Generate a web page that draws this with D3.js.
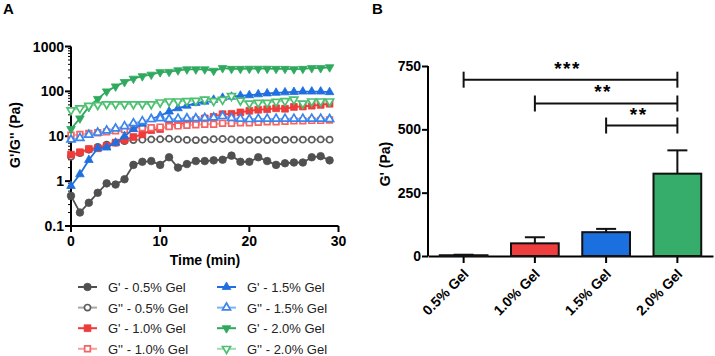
<!DOCTYPE html>
<html>
<head>
<meta charset="utf-8">
<script src="https://cdn.jsdelivr.net/npm/d3@7"></script>
<style>
body { margin: 0; background: #fff; }
text { font-family: "Liberation Sans", Arial, sans-serif; }
</style>
</head>
<body>
<script>
// ---- panel A data (time sweep) ----
const time = [0,1,2,3,4,5,6,7,8,9,10,11,12,13,14,15,16,17,18,19,20,21,22,23,24,25,26,27,28,29];
const gp05  = [0.47,0.2,0.33,0.55,0.89,0.84,1.1,2.3,2.7,2.8,2.3,3.4,2.0,2.4,2.8,2.8,2.9,3.0,3.7,2.7,2.7,3.4,2.8,2.3,2.5,2.6,2.6,3.4,3.6,2.9];
const gpp05 = [3.5,4.2,5.0,5.8,6.5,7.2,7.8,8.2,8.4,8.5,8.6,8.8,8.5,8.3,8.2,8.3,8.6,8.7,8.5,8.3,8.3,8.3,8.2,8.3,8.3,8.4,8.4,8.4,8.5,8.4];
const gp10  = [3.9,4.4,5.2,5.4,6.1,7.2,8.3,9.6,11,13.7,14.5,17.5,18.5,20,23,25,27,31,31.6,34,37,39,40,42,41,45,46,48,50,53];
const gpp10 = [10.5,11,11.5,12,12.5,13.2,14,15,15.5,15.5,16,16.5,17,17.5,18,18.5,18.5,19.5,19.5,20,20,20.5,21,21,21.5,22,22,22.5,22.5,23];
const gp15  = [0.78,1.42,2.96,5.4,5.6,7.2,10,14.4,19,24,28.5,35.5,42,48,55,59,65,72,76,80,82,86,90,93,95,97,99,99,99,96];
const gpp15 = [8.4,9.1,10.8,12,13.4,14.8,16.7,19.5,21.5,24,25,24,24.5,25,25,25.5,26,28,25.5,24.5,24,24.5,24.5,24.5,24.5,24.5,24.5,24.5,24.5,24];
const gp20  = [14.5,25,45,68,100,129,162,192,218,236,268,272,295,310,310,310,288,330,318,318,320,320,320,318,318,312,318,330,330,345];
const gpp20 = [38,42,48,50,52,52,52,52,52,52,57,60,60,61,62,66,61,65,79,63,54,56,56,59,61,66,54,60,60,60];

const seriesNames = ["G' - 0.5% Gel", "G'' - 0.5% Gel", "G' - 1.0% Gel", "G'' - 1.0% Gel",
                     "G' - 1.5% Gel", "G'' - 1.5% Gel", "G' - 2.0% Gel", "G'' - 2.0% Gel"];
const yTickLabels = ["0.1", "1", "10", "100", "1000"];
const xTicks = [0, 10, 20, 30];

// ---- panel B data (G' at end) ----
const gels = ["0.5% Gel", "1.0% Gel", "1.5% Gel", "2.0% Gel"];
const gMean = [3, 50, 94, 325];
const gErr = [2, 24, 13, 92];
const barTicks = [0, 250, 500, 750];
const sigFrom = [0, 1, 2];
const sigTo = [3, 3, 3];
const sigY = [696, 602, 515];
const sigLabel = ["***", "**", "**"];

const W = 715, H = 356;
const svg = d3.select("body").append("svg").attr("width", W).attr("height", H);

// look of each series
const styles = [
  {c: "#505050", line: "#505050", sym: d3.symbolCircle, open: false, rot: 0, size: 45},
  {c: "#5a5a5a", line: "#a8a8a8", sym: d3.symbolCircle, open: true, rot: 0, size: 30},
  {c: "#ef3b3b", line: "#ef3b3b", sym: d3.symbolSquare, open: false, rot: 0, size: 46},
  {c: "#f56464", line: "#f8a0a0", sym: d3.symbolSquare, open: true, rot: 0, size: 32},
  {c: "#1f6fe0", line: "#1f6fe0", sym: d3.symbolTriangle, open: false, rot: 0, size: 32},
  {c: "#3a85ee", line: "#80b2f2", sym: d3.symbolTriangle, open: true, rot: 0, size: 28},
  {c: "#2fa95e", line: "#2fa95e", sym: d3.symbolTriangle, open: false, rot: 180, size: 32},
  {c: "#4cc070", line: "#a0dcb0", sym: d3.symbolTriangle, open: true, rot: 180, size: 28}
];
const allValues = [gp05, gpp05, gp10, gpp10, gp15, gpp15, gp20, gpp20];

// ================= panel A =================
const x = d3.scaleLinear().domain([0, 30]).range([71, 338.5]);
const y = d3.scaleLog().domain([0.1, 1000]).range([226, 46.5]);

svg.append("text").attr("x", 3).attr("y", 14).attr("font-size", 15).attr("font-weight", "bold").text("A");

const gA = svg.append("g");

// y axis (log, with minor ticks)
const yAxis = gA.append("g");
yAxis.append("line").attr("x1", 71).attr("x2", 71).attr("y1", y(1000)).attr("y2", y(0.1))
  .attr("stroke", "#000").attr("stroke-width", 2);
y.ticks().forEach(t => {
  const major = Math.abs(Math.log10(t) - Math.round(Math.log10(t))) < 1e-9;
  yAxis.append("line").attr("x1", 71).attr("x2", major ? 65 : 68)
    .attr("y1", y(t)).attr("y2", y(t)).attr("stroke", "#000").attr("stroke-width", major ? 2 : 1);
});
yTickLabels.forEach(l => {
  yAxis.append("text").attr("x", 64).attr("y", y(+l) + 5).attr("text-anchor", "end")
    .attr("font-size", 14).attr("font-weight", "bold").text(l);
});

// x axis
const xAxis = gA.append("g");
xAxis.append("line").attr("x1", 70).attr("x2", x(30)).attr("y1", 226).attr("y2", 226)
  .attr("stroke", "#000").attr("stroke-width", 2);
xTicks.forEach(t => {
  xAxis.append("line").attr("x1", x(t)).attr("x2", x(t)).attr("y1", 226).attr("y2", 232)
    .attr("stroke", "#000").attr("stroke-width", 2);
  xAxis.append("text").attr("x", x(t)).attr("y", 246).attr("text-anchor", "middle")
    .attr("font-size", 14).attr("font-weight", "bold").text(t);
});

gA.append("text").attr("x", 205).attr("y", 265).attr("text-anchor", "middle")
  .attr("font-size", 14).attr("font-weight", "bold").text("Time (min)");
gA.append("text").attr("transform", "translate(20,135) rotate(-90)").attr("text-anchor", "middle")
  .attr("font-size", 14).attr("font-weight", "bold").text("G'/G'' (Pa)");

const line = d3.line().x((d, i) => x(time[i])).y(d => y(d));

function marker(sel, s) {
  sel.attr("d", d3.symbol().type(s.sym).size(s.size)())
    .attr("fill", s.open ? "#fff" : s.c)
    .attr("stroke", s.c)
    .attr("stroke-width", s.open ? 1.7 : 0.8);
}

allValues.forEach((vals, k) => {
  const s = styles[k];
  gA.append("path").attr("d", line(vals)).attr("fill", "none")
    .attr("stroke", s.line).attr("stroke-width", 1.8);
  gA.append("g").selectAll("path").data(vals).join("path")
    .attr("transform", (d, i) => `translate(${x(time[i])},${y(d)}) rotate(${s.rot})`)
    .call(marker, s);
});

// legend
const legend = svg.append("g");
seriesNames.forEach((name, k) => {
  const s = styles[k];
  const col = k < 4 ? 0 : 1;
  const row = k % 4;
  const lx = col === 0 ? 78 : 217;
  const ly = 287 + row * 20.6;
  legend.append("line").attr("x1", lx).attr("x2", lx + 19).attr("y1", ly).attr("y2", ly)
    .attr("stroke", s.line).attr("stroke-width", 2);
  legend.append("path").attr("transform", `translate(${lx + 9.5},${ly}) rotate(${s.rot})`).call(marker, s);
  legend.append("text").attr("x", lx + 30).attr("y", ly + 5)
    .attr("font-size", 13).attr("fill", "#222").text(name);
});

// ================= panel B =================
svg.append("text").attr("x", 372).attr("y", 14).attr("font-size", 15).attr("font-weight", "bold").text("B");

const gB = svg.append("g");
const xb = d3.scaleBand().domain(gels).range([428, 713]).paddingInner(0.33).paddingOuter(0.165);
const yb = d3.scaleLinear().domain([0, 750]).range([256, 66]);
const barColors = ["#888888", "#ef3e3e", "#1c6fdf", "#36ad6a"];

gB.append("g").attr("transform", "translate(428,0)")
  .call(d3.axisLeft(yb).tickValues(barTicks).tickSize(6).tickSizeOuter(0))
  .call(g => g.select(".domain").attr("stroke-width", 2).attr("d", `M0,${yb(750)}V${yb(0)}`))
  .call(g => g.selectAll(".tick line").attr("stroke-width", 2))
  .call(g => g.selectAll(".tick text").attr("font-size", 14).attr("font-weight", "bold")
    .attr("font-family", null).attr("x", -7));

gB.append("g").attr("transform", "translate(0,256)")
  .call(d3.axisBottom(xb).tickSize(7).tickSizeOuter(0))
  .call(g => g.select(".domain").attr("stroke-width", 2))
  .call(g => g.selectAll(".tick line").attr("stroke-width", 2))
  .call(g => g.selectAll(".tick text").attr("font-size", 14).attr("font-weight", "bold")
    .attr("font-family", null).attr("text-anchor", "end")
    .attr("dy", null).attr("y", 0)
    .attr("transform", "translate(6,19) rotate(-45)"));

gB.append("text").attr("transform", "translate(390,164) rotate(-90)").attr("text-anchor", "middle")
  .attr("font-size", 14).attr("font-weight", "bold").text("G' (Pa)");

// error bars (upper only)
gels.forEach((g, i) => {
  const cx = xb(g) + xb.bandwidth() / 2;
  gB.append("line").attr("x1", cx).attr("x2", cx).attr("y1", yb(gMean[i])).attr("y2", yb(gMean[i] + gErr[i]))
    .attr("stroke", "#111").attr("stroke-width", 2);
  gB.append("line").attr("x1", cx - 10).attr("x2", cx + 10)
    .attr("y1", yb(gMean[i] + gErr[i])).attr("y2", yb(gMean[i] + gErr[i]))
    .attr("stroke", "#111").attr("stroke-width", 2);
});

gB.selectAll("rect.bar").data(gels).join("rect").attr("class", "bar")
  .attr("x", d => xb(d)).attr("width", xb.bandwidth())
  .attr("y", (d, i) => yb(gMean[i])).attr("height", (d, i) => yb(0) - yb(gMean[i]))
  .attr("fill", (d, i) => barColors[i]).attr("stroke", "#111").attr("stroke-width", 2);

// significance brackets
sigY.forEach((v, i) => {
  const x1 = xb(gels[sigFrom[i]]) + xb.bandwidth() / 2;
  const x2 = xb(gels[sigTo[i]]) + xb.bandwidth() / 2;
  const yy = yb(v);
  gB.append("line").attr("x1", x1).attr("x2", x2).attr("y1", yy).attr("y2", yy)
    .attr("stroke", "#111").attr("stroke-width", 2);
  [x1, x2].forEach(xx => gB.append("line").attr("x1", xx).attr("x2", xx)
    .attr("y1", yy - 8).attr("y2", yy + 8).attr("stroke", "#111").attr("stroke-width", 2));
  gB.append("text").attr("x", (x1 + x2) / 2 - 3).attr("y", yy - 5).attr("text-anchor", "middle")
    .attr("font-size", 19).attr("font-weight", "bold").attr("letter-spacing", 1.5).text(sigLabel[i]);
});
</script>
</body>
</html>
